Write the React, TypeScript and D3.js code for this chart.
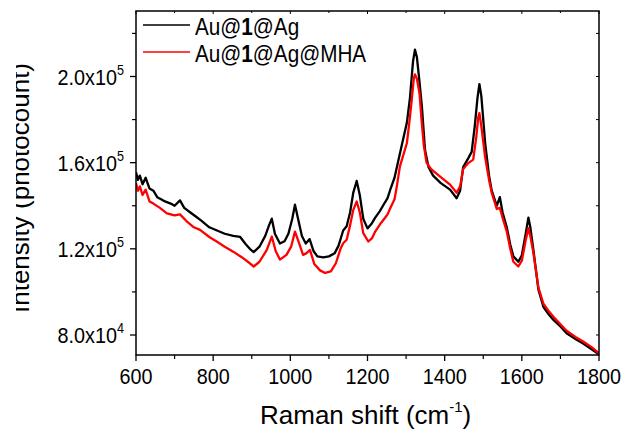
import React from "react";
import * as d3 from "d3";

// Raman shift (cm-1)
const blackShift = [600,605,610,617,625,635,645,655,665,675,690,700,714,725,740,755,770,790,810,830,852,870,885,895,905,920,935,945,952,960,973,985,995,1005,1012,1020,1030,1040,1050,1060,1070,1085,1100,1115,1125,1137,1146,1155,1163,1172,1180,1189,1200,1210,1220,1232,1245,1252,1260,1270,1280,1290,1302,1310,1318,1323,1328,1335,1341,1349,1358,1370,1390,1414,1431,1440,1448,1461,1470,1478,1485,1490,1495,1505,1515,1522,1535,1543,1550,1561,1570,1578,1591,1600,1610,1617,1622,1630,1643,1656,1670,1682,1700,1716,1740,1759,1780,1800];
// Au@1@Ag intensity (x1000 photocount)
const blackIntensity = [155.5,152,154,150,153,148,147,144,143,142,141,140,142.5,139,137,135,133,130,128.5,127,126,125.5,122,120,118.5,121,126,131,134,127,122.5,123.5,127,134,140.5,134,126,122.5,124.5,119,116.5,116,116.5,118,121.5,128.5,130.5,137,146,151.5,145,134,129.5,131.5,134.5,137.5,141.5,143.5,148,153,161,169,178.5,190,207,212.5,209,197,186,166,158,154,150.5,147.5,143.5,147,158,162,165,177,190,196.5,191,169,154,147,140,144,137,130,122,116.5,114,117,127,134.5,130,119.5,101,93,89.5,87,84,80.8,78,76,73.5,71];

const redShift = [600,605,610,617,625,635,645,662,680,700,714,730,750,766,790,809,830,852,875,895,905,920,939,952,962,973,990,1002,1012,1022,1033,1042,1051,1062,1077,1090,1105,1118,1130,1137,1146,1155,1163,1172,1180,1189,1202,1212,1220,1235,1245,1252,1258,1270,1276,1284,1302,1308,1314,1320,1323,1328,1335,1340,1346,1353,1365,1385,1414,1431,1440,1448,1461,1474,1482,1487,1490,1495,1505,1515,1522,1535,1543,1550,1561,1570,1578,1591,1600,1610,1617,1622,1630,1643,1656,1670,1682,1700,1716,1740,1759,1780,1800];
// Au@1@Ag@MHA intensity (x1000 photocount)
const redIntensity = [150.5,147,149,145,147.5,142,141,139,136.5,135.5,136,133,130,128.8,125.5,123.4,121,118.7,116,113.3,111.8,114,119.5,125.7,119,115,117.2,121,128,123,117.2,118,119.5,113,110,108.8,109.5,113.3,120,122.6,124.2,131,138,142,137,127.3,123.4,125,128,132,134.3,136,138.5,143,149,158.3,169,178,188,199,201,199,192,180,168,160,157,154,149.8,146,149,157,159.8,161.4,172,181,183,177,162.5,152,146,138.5,139,134.5,128,120,114,111.8,114.5,124,129.6,126,118,102,94.5,91,88.5,85,82,79,77,74.5,71.5];

const xMajorTicks = [600, 800, 1000, 1200, 1400, 1600, 1800];
const xMinorTicks = [700, 900, 1100, 1300, 1500, 1700];
const yMajorTicks = [80000, 120000, 160000, 200000];
const yMinorTicks = [100000, 140000, 180000, 220000];
const yTickMantissa = ["8.0", "1.2", "1.6", "2.0"];
const yTickExponent = ["4", "5", "5", "5"];

const seriesNames = ["Au@1@Ag", "Au@1@Ag@MHA"];
const seriesColors = ["#000000", "#ff0000"];

const FONT = "'Liberation Sans', Arial, Helvetica, sans-serif";

export default function App() {
  const left = 136, right = 599, top = 11, bottom = 355;
  const x = d3.scaleLinear().domain([600, 1800]).range([left, right]);
  const y = d3.scaleLinear().domain([80000, 200000]).range([335, 76.5]);

  const line = d3
    .line<[number, number]>()
    .x((d) => x(d[0]))
    .y((d) => y(d[1] * 1000));

  const blackData: [number, number][] = blackShift.map((s, i) => [s, blackIntensity[i]]);
  const redData: [number, number][] = redShift.map((s, i) => [s, redIntensity[i]]);

  const sx = 0.9;

  return (
    <svg
      width={627}
      height={436}
      style={{ position: "absolute", left: 0, top: 0, background: "#fff" }}
      fontFamily={FONT}
    >
      <defs>
        <clipPath id="plotclip">
          <rect x={left} y={top} width={right - left} height={bottom - top} />
        </clipPath>
        <clipPath id="ytitleclip">
          <rect x={16} y={0} width={100} height={436} />
        </clipPath>
      </defs>
      <rect x={0} y={0} width={627} height={436} fill="#fff" />

      {/* data */}
      <g clipPath="url(#plotclip)" fill="none" strokeLinejoin="round">
        <path d={line(blackData) || ""} stroke={seriesColors[0]} strokeWidth={2.3} />
        <path d={line(redData) || ""} stroke={seriesColors[1]} strokeWidth={2.3} />
      </g>

      {/* frame */}
      <rect x={left} y={top} width={right - left} height={bottom - top} fill="none" stroke="#000" strokeWidth={1.5} />

      {/* bottom ticks */}
      {xMajorTicks.map((t) => (
        <g key={"xM" + t}>
          <line x1={x(t)} x2={x(t)} y1={bottom} y2={bottom + 6} stroke="#000" strokeWidth={1.3} />
          <line x1={x(t)} x2={x(t)} y1={top} y2={top + 3} stroke="#000" strokeWidth={1} />
          <text
            transform={`translate(${x(t)},384) scale(${sx},1)`}
            textAnchor="middle"
            fontSize={22}
            fill="#000"
          >
            {t}
          </text>
        </g>
      ))}
      {xMinorTicks.map((t) => (
        <g key={"xm" + t}>
          <line x1={x(t)} x2={x(t)} y1={bottom} y2={bottom + 4} stroke="#000" strokeWidth={1.2} />
          <line x1={x(t)} x2={x(t)} y1={top} y2={top + 2} stroke="#000" strokeWidth={1} />
        </g>
      ))}

      {/* left ticks */}
      {yMajorTicks.map((t, i) => (
        <g key={"yM" + t}>
          <line x1={left - 6} x2={left} y1={y(t)} y2={y(t)} stroke="#000" strokeWidth={1.3} />
          <line x1={right - 3} x2={right} y1={y(t)} y2={y(t)} stroke="#000" strokeWidth={1} />
          <text
            transform={`translate(124,${y(t) + 8}) scale(${sx},1)`}
            textAnchor="end"
            fontSize={22}
            fill="#000"
          >
            {yTickMantissa[i] + "x10"}
            <tspan fontSize={14} dy={-10}>
              {yTickExponent[i]}
            </tspan>
          </text>
        </g>
      ))}
      {yMinorTicks.map((t) => (
        <g key={"ym" + t}>
          <line x1={left - 4} x2={left} y1={y(t)} y2={y(t)} stroke="#000" strokeWidth={1.2} />
          <line x1={right - 3} x2={right} y1={y(t)} y2={y(t)} stroke="#000" strokeWidth={1} />
        </g>
      ))}

      {/* axis titles */}
      <text x={260} y={424} fontSize={26} fill="#000">
        Raman shift (cm
        <tspan fontSize={15} dy={-12}>-1</tspan>
        <tspan dy={12}>)</tspan>
      </text>
      <g clipPath="url(#ytitleclip)">
        <text
          transform="translate(29,188) rotate(-90)"
          textAnchor="middle"
          fontSize={26}
          fill="#000"
        >
          Intensity (photocount)
        </text>
      </g>

      {/* legend */}
      {seriesNames.map((name, i) => {
        const ly = 25 + i * 27;
        const parts = name.split("1");
        return (
          <g key={name}>
            <line x1={143} x2={190} y1={ly} y2={ly} stroke={seriesColors[i]} strokeWidth={1.5} />
            <text transform={`translate(195,${ly + 10}) scale(${sx},1)`} fontSize={23} fill="#000">
              {parts[0]}
              <tspan fontWeight="bold">1</tspan>
              {parts.slice(1).join("1")}
            </text>
          </g>
        );
      })}
    </svg>
  );
}
